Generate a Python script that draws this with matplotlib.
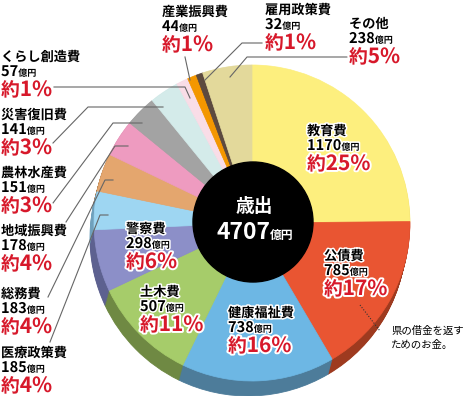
import matplotlib
matplotlib.use("Agg")
import matplotlib.pyplot as plt
import matplotlib.patheffects as pe
from matplotlib.patches import Circle

# 歳出の内訳 (億円), 12時の位置から時計回り
names = ["教育費", "公債費", "健康福祉費", "土木費", "警察費", "医療政策費", "総務費",
         "地域振興費", "農林水産費", "災害復旧費", "くらし創造費", "産業振興費", "雇用政策費", "その他"]
amounts = [1170, 785, 738, 507, 298, 185, 183, 178, 151, 141, 57, 44, 32, 238]
percents = [25, 17, 16, 11, 6, 4, 4, 4, 3, 3, 1, 1, 1, 5]
total_label = "4707"
note_lines = ["県の借金を返す", "ためのお金。"]

colors = ["#FDEF7E", "#E95532", "#6DB7E4", "#A6CC6A", "#8C8FC8", "#9ED6F2", "#E4A66E",
          "#EE9BC0", "#A3A3A3", "#D4EBEA", "#F9DDE7", "#F39700", "#5C4A3F", "#E3D99B"]
side_colors = ["#C9B95A", "#9E3A1F", "#4D7C9A", "#6F8943", "#5D6190", "#6FA0BC", "#B07E4E",
               "#B97896", "#7D7D7D", "#A3B8B7", "#C9AEB8", "#B57000", "#3E322A", "#B0A874"]

RED = "#D7182A"

# label anchor (x, baseline of name) in pixels
label_pos = {0: (307, 135), 1: (324, 260), 2: (228, 317), 3: (140, 296), 4: (126, 233),
             5: (1, 357), 6: (1, 298), 7: (1, 235), 8: (1, 177), 9: (1, 119), 10: (1, 61),
             11: (162, 16), 12: (265, 14), 13: (349, 28)}

# leader lines (pixels)
leaders = [
    [(54, 87), (185, 87), (190, 98)],
    [(53, 143), (88, 107), (163, 107)],
    [(53, 203), (113, 123), (142, 123)],
    [(66, 222), (115, 146), (128, 146)],
    [(48, 297), (105, 180), (113, 180)],
    [(50, 342), (100, 215), (108, 215)],
    [(185, 57), (190, 80)],
    [(262, 43), (242, 43), (205, 80)],
    [(347, 57), (247, 57), (230, 77)],
]

plt.rcParams["font.family"] = ["Noto Sans CJK JP", "DejaVu Sans"]

fig = plt.figure(figsize=(4.63, 3.96), dpi=100)
ax = fig.add_axes([0, 0, 1, 1])

cx, cy, r = 252, 223, 158
depth = 15

# side of the cylinder
for k in range(depth, 0, -1):
    w, _ = ax.pie(amounts, colors=side_colors, radius=r, center=(cx - 4 * k / depth, cy + k),
                  startangle=-90, counterclock=True, frame=True)
    for p in w:
        p.set_linewidth(0.6)
        p.set_edgecolor(p.get_facecolor())

wedges, _ = ax.pie(amounts, colors=colors, radius=r, center=(cx, cy),
                   startangle=-90, counterclock=True, frame=True)
for p in wedges:
    p.set_linewidth(0.5)
    p.set_edgecolor(p.get_facecolor())

ax.add_patch(Circle((253, 222), 60, color="black", zorder=5))

ax.set_xlim(0, 463)
ax.set_ylim(396, 0)
ax.set_aspect("auto")
ax.axis("off")

renderer = fig.canvas.get_renderer()
halo = [pe.withStroke(linewidth=2.2, foreground="white")]
halo_red = [pe.withStroke(linewidth=2.8, foreground="white")]


def run(x, y, parts, ha="left", effects=None, z=6):
    texts = []
    width = 0
    for s, size, color in parts:
        t = ax.text(0, y, s, fontsize=size, color=color, fontweight="bold",
                    ha="left", va="baseline", path_effects=effects, zorder=z)
        wd = t.get_window_extent(renderer).width
        texts.append((t, wd))
        width += wd
    if ha == "center":
        x -= width / 2
    for t, wd in texts:
        t.set_x(x)
        x += wd


for i, name in enumerate(names):
    x, y = label_pos[i]
    run(x, y, [(name, 9.5, "black")], effects=halo)
    run(x, y + 15, [(str(amounts[i]), 10.5, "black"), ("億円", 6.5, "black")], effects=halo)
    run(x, y + 35, [("約", 13.5, RED), (f"{percents[i]}%", 15, RED)], effects=halo_red)

for line in leaders:
    xs, ys = zip(*line)
    ax.plot(xs, ys, color="#666666", lw=0.8, zorder=4)

# 歳出 total
run(254, 212, [("歳出", 13.5, "white")], ha="center", z=7)
run(255, 239, [(total_label, 16.5, "white"), ("億円", 8.5, "white")], ha="center", z=7)

# 公債費 note
ax.plot([360, 380], [305, 331], color="#333333", lw=0.8, ls=(0, (1, 1.5)), zorder=6)
ax.text(391, 334, note_lines[0], fontsize=7.5, color="black", va="baseline", zorder=6)
ax.text(391, 348, note_lines[1], fontsize=7.5, color="black", va="baseline", zorder=6)

fig.savefig("out.png", dpi=100)
